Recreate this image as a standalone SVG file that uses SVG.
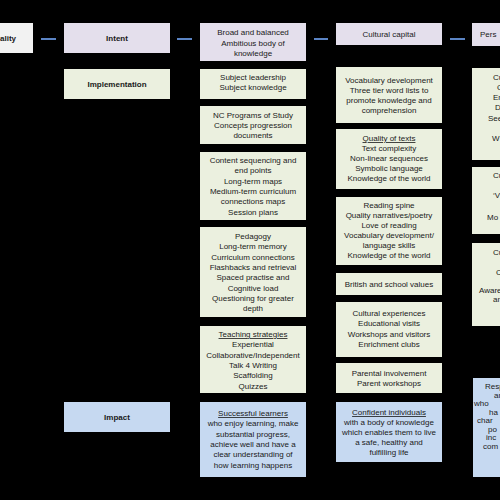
<svg xmlns="http://www.w3.org/2000/svg" width="500" height="500" viewBox="0 0 500 500">
<style>
text{font-family:"Liberation Sans",Arial,sans-serif;font-size:8px;fill:#1a1a1a;text-anchor:middle}
.h{font-weight:bold}
.s{text-anchor:start}
.u{text-decoration:underline}
.lav{fill:#e4dfec}
.grn{fill:#ebf0df}
.blu{fill:#c6d9f1}
.wht{fill:#f2f2f2}
.con line{stroke:#5b84c4;stroke-width:2}
</style>
<rect width="500" height="500" fill="#000"/>
<g class="con">
<line x1="41" y1="39" x2="56" y2="39"/>
<line x1="177" y1="39" x2="192" y2="39"/>
<line x1="314" y1="39" x2="328" y2="39"/>
<line x1="450" y1="39" x2="465" y2="39"/>
</g>
<g id="quality"><rect class="wht" x="-10" y="23" width="43" height="30"/><text class="h" x="16" y="41" style="text-anchor:end">ality</text></g>
<g id="intent"><rect class="lav" x="64" y="23" width="106" height="30"/><text class="h" x="117" y="41">Intent</text></g>
<g id="implementation"><rect class="grn" x="64" y="69" width="106" height="30"/><text class="h" x="117" y="87">Implementation</text></g>
<g id="impact"><rect class="blu" x="64" y="402" width="106" height="30"/><text class="h" x="117" y="420">Impact</text></g>

<g id="broad"><rect class="lav" x="200" y="23" width="106" height="38"/><text x="253" y="35">Broad and balanced</text><text x="253" y="45.5">Ambitious body of</text><text x="253" y="56">knowledge</text></g>
<g id="subject"><rect class="grn" x="200" y="69" width="106" height="30"/><text x="253" y="80">Subject leadership</text><text x="253" y="90">Subject knowledge</text></g>
<g id="nc"><rect class="grn" x="200" y="106" width="106" height="38"/><text x="253" y="118">NC Programs of Study</text><text x="253" y="128">Concepts progression</text><text x="253" y="138">documents</text></g>
<g id="content"><rect class="grn" x="200" y="152" width="106" height="68"/><text x="253" y="163">Content sequencing and</text><text x="253" y="173.3">end points</text><text x="253" y="183.6">Long-term maps</text><text x="253" y="193.9">Medium-term curriculum</text><text x="253" y="204.2">connections maps</text><text x="253" y="214.5">Session plans</text></g>
<g id="pedagogy"><rect class="grn" x="200" y="227" width="106" height="90"/><text x="253" y="239">Pedagogy</text><text x="253" y="249.3">Long-term memory</text><text x="253" y="259.6">Curriculum connections</text><text x="253" y="269.9">Flashbacks and retrieval</text><text x="253" y="280.2">Spaced practise and</text><text x="253" y="290.5">Cognitive load</text><text x="253" y="300.8">Questioning for greater</text><text x="253" y="311.1">depth</text></g>
<g id="teaching"><rect class="grn" x="200" y="326" width="106" height="67"/><text class="u" x="253" y="337">Teaching strategies</text><text x="253" y="347.3">Experiential</text><text x="253" y="357.6">Collaborative/Independent</text><text x="253" y="367.9">Talk 4 Writing</text><text x="253" y="378.2">Scaffolding</text><text x="253" y="388.5">Quizzes</text></g>
<g id="successful"><rect class="blu" x="200" y="402" width="106" height="75"/><text class="u" x="253" y="416">Successful learners</text><text x="253" y="426.3">who enjoy learning, make</text><text x="253" y="436.6">substantial progress,</text><text x="253" y="446.9">achieve well and have a</text><text x="253" y="457.2">clear understanding of</text><text x="253" y="467.5">how learning happens</text></g>

<g id="cultural"><rect class="lav" x="336" y="23" width="106" height="22"/><text x="389" y="37">Cultural capital</text></g>
<g id="vocabulary"><rect class="grn" x="336" y="67" width="106" height="56"/><text x="389" y="83">Vocabulary development</text><text x="389" y="93">Three tier word lists to</text><text x="389" y="103">promote knowledge and</text><text x="389" y="113">comprehension</text></g>
<g id="texts"><rect class="grn" x="336" y="129" width="106" height="60"/><text class="u" x="389" y="141">Quality of texts</text><text x="389" y="151">Text complexity</text><text x="389" y="161">Non-linear sequences</text><text x="389" y="171">Symbolic language</text><text x="389" y="181">Knowledge of the world</text></g>
<g id="reading"><rect class="grn" x="336" y="197" width="106" height="68"/><text x="389" y="208">Reading spine</text><text x="389" y="218">Quality narratives/poetry</text><text x="389" y="228">Love of reading</text><text x="389" y="238">Vocabulary development/</text><text x="389" y="248">language skills</text><text x="389" y="258">Knowledge of the world</text></g>
<g id="british"><rect class="grn" x="336" y="273" width="106" height="22"/><text x="389" y="286.5">British and school values</text></g>
<g id="experiences"><rect class="grn" x="336" y="302" width="106" height="55"/><text x="389" y="316">Cultural experiences</text><text x="389" y="326.3">Educational visits</text><text x="389" y="336.6">Workshops and visitors</text><text x="389" y="346.9">Enrichment clubs</text></g>
<g id="parental"><rect class="grn" x="336" y="363" width="106" height="30"/><text x="389" y="376">Parental involvement</text><text x="389" y="386">Parent workshops</text></g>
<g id="confident"><rect class="blu" x="336" y="402" width="106" height="60"/><text class="u" x="389" y="415">Confident individuals</text><text x="389" y="425">with a body of knowledge</text><text x="389" y="435">which enables them to live</text><text x="389" y="445">a safe, healthy and</text><text x="389" y="455">fulfilling life</text></g>

<g id="personal"><rect class="lav" x="472" y="23" width="40" height="23"/><text class="s" x="480" y="37">Pers</text></g>
<g id="right1"><rect class="grn" x="472" y="68" width="40" height="92"/><text class="s" x="493" y="80">Cu</text><text class="s" x="497" y="90">C</text><text class="s" x="493" y="100">En</text><text class="s" x="495" y="110">D</text><text class="s" x="488" y="121">See</text><text class="s" x="492" y="141">W</text></g>
<g id="right2"><rect class="grn" x="472" y="167" width="40" height="67"/><text class="s" x="493" y="178">Cu</text><text class="s" x="493" y="198">‘V</text><text class="s" x="487" y="220">Mo</text></g>
<g id="right3"><rect class="grn" x="472" y="243" width="40" height="83"/><text class="s" x="493" y="255">Cu</text><text class="s" x="496" y="275">C</text><text class="s" x="479" y="293">Aware</text><text class="s" x="493" y="302">an</text></g>
<g id="right4"><rect class="blu" x="473" y="378" width="40" height="99"/><text class="s" x="485" y="389">Resp</text><text class="s" x="494" y="397.5">an</text><text class="s" x="474" y="406">who</text><text class="s" x="489" y="414.5">ha</text><text class="s" x="477" y="423">char</text><text class="s" x="488" y="431.5">po</text><text class="s" x="486" y="440">inc</text><text class="s" x="483" y="448.5">com</text></g>
</svg>
